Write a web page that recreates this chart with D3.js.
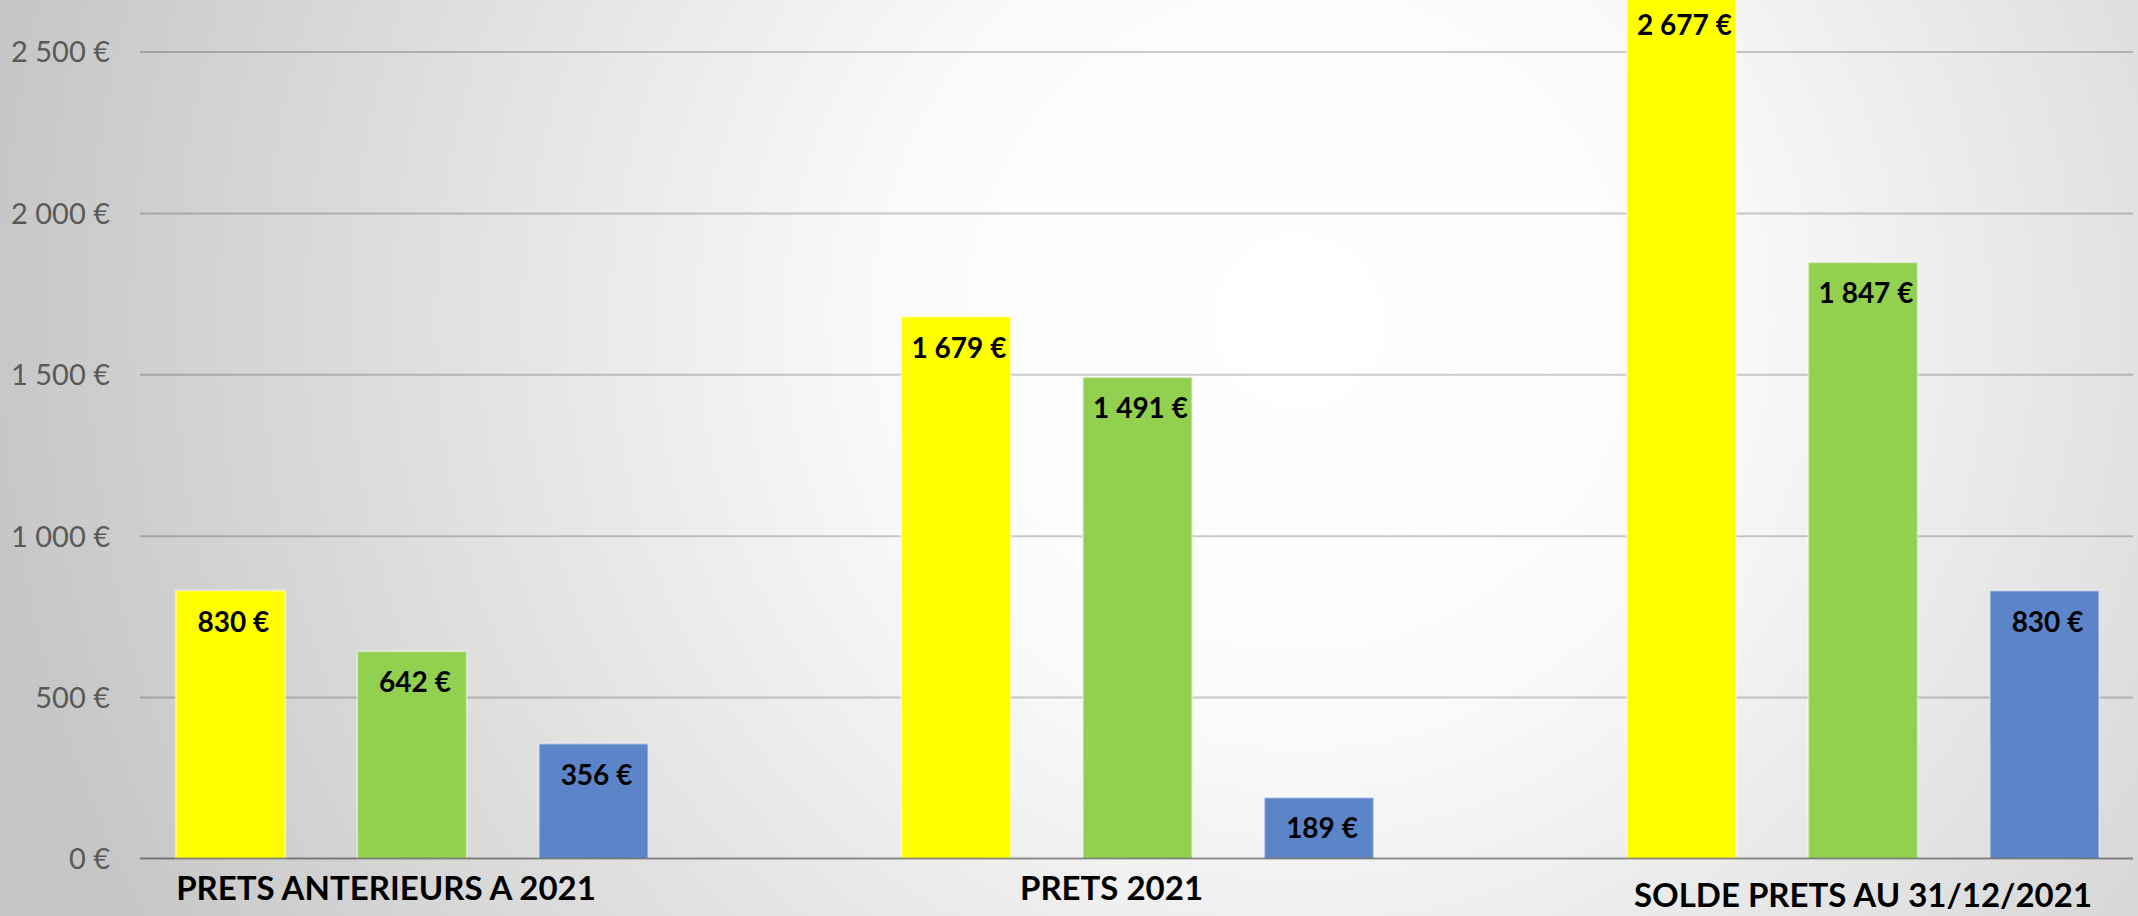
<!DOCTYPE html>
<html><head><meta charset="utf-8">
<script src="https://cdn.jsdelivr.net/npm/d3@7"></script>
<style>html,body{margin:0;padding:0;overflow:hidden;background:#fff}</style>
</head><body>
<svg id="chart" width="2138" height="916"></svg>
<script>
// ---- data ----
const categories = ["PRETS ANTERIEURS A 2021", "PRETS 2021", "SOLDE PRETS AU 31/12/2021"];
const seriesNames = ["Série 1", "Série 2", "Série 3"];
const serie1 = [830, 1679, 2677];
const serie2 = [642, 1491, 1847];
const serie3 = [356, 189, 830];
const yTicks = [0, 500, 1000, 1500, 2000, 2500];
const seriesColors = ["#ffff00", "#92d050", "#5b84c9"];

// ---- layout ----
const W = 2138, H = 916;
const gridLeft = 140, gridRight = 2133;
const labelDx = [-26, -26, 0];
const labelBase = [900, 900, 907];

const svg = d3.select("#chart");
const defs = svg.append("defs");
const grad = defs.append("radialGradient").attr("id", "bg")
  .attr("gradientUnits", "userSpaceOnUse")
  .attr("cx", 1300).attr("cy", 320).attr("r", 1320);
grad.append("stop").attr("offset", 0).attr("stop-color", "#ffffff");
grad.append("stop").attr("offset", 0.3).attr("stop-color", "#fbfbfb");
grad.append("stop").attr("offset", 1).attr("stop-color", "#c6c6c6");
svg.append("rect").attr("width", W).attr("height", H).attr("fill", "url(#bg)");

const loc = d3.formatLocale({decimal: ",", thousands: "\u00a0", grouping: [3], currency: ["", "\u00a0€"]});
const fmt = loc.format("$,.0f");

const x0 = d3.scaleBand().domain(categories).range([49.25, 2225.75]);
const x1 = d3.scaleBand().domain(d3.range(seriesNames.length))
  .range([0, x0.bandwidth()]).paddingInner(0.397).paddingOuter(0.697);
const y = d3.scaleLinear().domain([0, 2500]).range([858.5, 51.5]);

// gridlines + tick labels
const axis = d3.axisLeft(y).tickValues(yTicks).tickFormat(fmt)
  .tickSize(-(gridRight - gridLeft)).tickPadding(30);
const gAxis = svg.append("g").attr("transform", `translate(${gridLeft},0)`).call(axis);
gAxis.select(".domain").remove();
gAxis.selectAll(".tick line").attr("stroke", "rgba(0,0,0,0.2)").attr("stroke-width", 2)
  .filter(d => d === 0).remove();
gAxis.selectAll(".tick text")
  .attr("fill", "#595959")
  .style("font-family", "Lato, 'Open Sans', sans-serif")
  .style("font-size", "29px")
  .attr("dy", "0.36em");

const seriesData = [serie1, serie2, serie3];
const rows = [];
categories.forEach((c, i) => seriesData.forEach((s, j) => rows.push({cat: c, i, j, v: s[i]})));

svg.append("g").selectAll("rect").data(rows).join("rect")
  .attr("x", d => x0(d.cat) + x1(d.j))
  .attr("width", x1.bandwidth())
  .attr("y", d => y(d.v))
  .attr("height", d => y(0) - y(d.v))
  .attr("fill", d => seriesColors[d.j])
  .attr("stroke", "rgba(255,255,255,0.45)")
  .attr("stroke-width", 2);

// axis line
svg.append("line")
  .attr("x1", gridLeft).attr("x2", gridRight)
  .attr("y1", y(0)).attr("y2", y(0))
  .attr("stroke", "rgba(0,0,0,0.42)").attr("stroke-width", 2);

// data labels
svg.append("g").selectAll("text").data(rows).join("text")
  .attr("x", d => x0(d.cat) + x1(d.j) + x1.bandwidth() / 2 + 3)
  .attr("y", d => y(d.v) + 41)
  .attr("text-anchor", "middle")
  .style("font-family", "Lato, 'Open Sans', sans-serif")
  .style("font-weight", "bold")
  .style("font-size", "28px")
  .attr("fill", "#000")
  .text(d => fmt(d.v));

// category labels
svg.append("g").selectAll("text").data(categories).join("text")
  .attr("x", (d, i) => x0(d) + x0.bandwidth() / 2 + labelDx[i])
  .attr("y", (d, i) => labelBase[i])
  .attr("text-anchor", "middle")
  .style("font-family", "Lato, 'Open Sans', sans-serif")
  .style("font-weight", "bold")
  .style("font-size", "33px")
  .attr("fill", "#000")
  .text(d => d);
</script>
</body></html>
